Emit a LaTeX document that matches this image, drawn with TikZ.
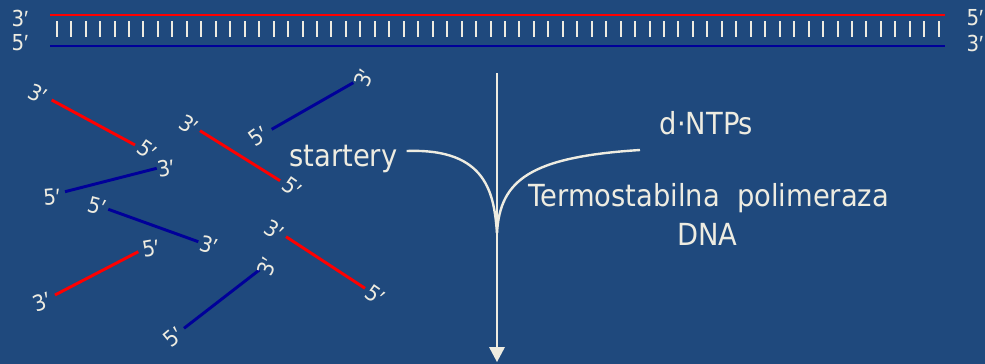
\documentclass[tikz,border=0pt]{standalone}
\usepackage{fontspec}
\setmainfont{DejaVu Sans Condensed}
\newfontfamily\pf{Liberation Sans}
\newcommand{\pr}{{\pf ′}}
\definecolor{bg}{HTML}{1F497D}
\definecolor{cream}{HTML}{EEECE1}
\definecolor{rstr}{HTML}{FF0000}
\definecolor{bstr}{HTML}{000099}
\begin{document}
\begin{tikzpicture}[x=0.75pt,y=-0.75pt,
  lab/.style={text=cream,font=\fontsize{16.5}{16.5}\selectfont,inner sep=0pt},
  big/.style={text=cream,font=\fontsize{22.8}{24}\selectfont,inner sep=0pt},
  red/.style={draw=rstr,line width=2.2pt},
  blu/.style={draw=bstr,line width=2.2pt},
  tick/.style={draw=cream,line width=1.5pt},
  crm/.style={draw=cream,line width=1.8pt}]
\fill[bg] (0,0) rectangle (985,364);
\useasboundingbox (0,0) rectangle (985,364);
% long duplex
\coordinate (r1) at (50,15); \coordinate (r2) at (945,15);
\coordinate (b1) at (50,46); \coordinate (b2) at (945,46);
\draw[red] (r1) -- (r2);
\draw[blu] (b1) -- (b2);
\foreach \i in {0,...,61}{
  \coordinate (t\i) at ({56.7+\i*14.46},21);
  \draw[tick] (t\i) -- ++(0,16);
}
\node[lab] (L1) at (20,18) {3\pr};
\node[lab] (L2) at (20,43) {5\pr};
\node[lab] (R1) at (975,18) {5\pr};
\node[lab] (R2) at (975,43) {3\pr};
% short strands
\coordinate (s1a) at (51.7,100); \coordinate (s1b) at (135,145);
\draw[red] (s1a) -- (s1b);
\node[lab,rotate=-25] at (37.3,93.3) {3\pr};
\node[lab,rotate=-35] at (146.7,150) {5\pr};
\coordinate (s2a) at (65,191.7); \coordinate (s2b) at (156.7,168.3);
\draw[blu] (s2a) -- (s2b);
\node[lab,rotate=5] at (51.7,196.7) {5\pr};
\node[lab,rotate=10] at (165.7,168.3) {3\pr};
\coordinate (s3a) at (108.3,209.3); \coordinate (s3b) at (198.3,241.7);
\draw[blu] (s3a) -- (s3b);
\node[lab,rotate=-15] at (96.7,205.7) {5\pr};
\node[lab,rotate=-15] at (208.3,245) {3\pr};
\coordinate (s4a) at (55,295); \coordinate (s4b) at (138.3,251.7);
\draw[red] (s4a) -- (s4b);
\node[lab,rotate=20] at (41.7,301.7) {3\pr};
\node[lab,rotate=10] at (150.7,248.3) {5\pr};
\coordinate (s5a) at (200,130.7); \coordinate (s5b) at (280,180.7);
\draw[red] (s5a) -- (s5b);
\node[lab,rotate=-30] at (188.3,124.3) {3\pr};
\node[lab,rotate=-35] at (291.7,187.3) {5\pr};
\coordinate (s6a) at (271.7,129.3); \coordinate (s6b) at (353.3,82.7);
\draw[blu] (s6a) -- (s6b);
\node[lab,rotate=35] at (258.3,136) {5\pr};
\node[lab,rotate=70] at (364,78.3) {3\pr};
\coordinate (s7a) at (286,236.7); \coordinate (s7b) at (365,288.3);
\draw[red] (s7a) -- (s7b);
\node[lab,rotate=-30] at (274,230) {3\pr};
\node[lab,rotate=-35] at (375,295) {5\pr};
\coordinate (s8a) at (184,328.3); \coordinate (s8b) at (259.3,270);
\draw[blu] (s8a) -- (s8b);
\node[lab,rotate=40] at (173.3,336.7) {5\pr};
\node[lab,rotate=70] at (266.7,266.7) {3\pr};
% texts
\node[big,anchor=base] (st) at (343.3,166) {startery};
\node[big,anchor=base] (dn) at (706.5,134) {d·NTPs};
\node[big,anchor=base] (tp) at (709,206.7) {Termostabilna\ \ polimeraza};
\node[big,anchor=base] (dna) at (707.5,245) {DNA};
% arrow and curves
\coordinate (atop) at (497,73);
\coordinate (abot) at (497,348);
\coordinate (amerge) at (497,233);
\draw[crm] (atop) -- (abot);
\fill[cream] (489,347) -- (505,347) -- (497,362) -- cycle;
\coordinate (cl) at (406.7,151);
\coordinate (cr) at (640,150);
\draw[crm] (cl) .. controls (488,148) and (494,195) .. (amerge);
\draw[crm] (cr) .. controls (530,157) and (500,180) .. (amerge);
\end{tikzpicture}
\end{document}
